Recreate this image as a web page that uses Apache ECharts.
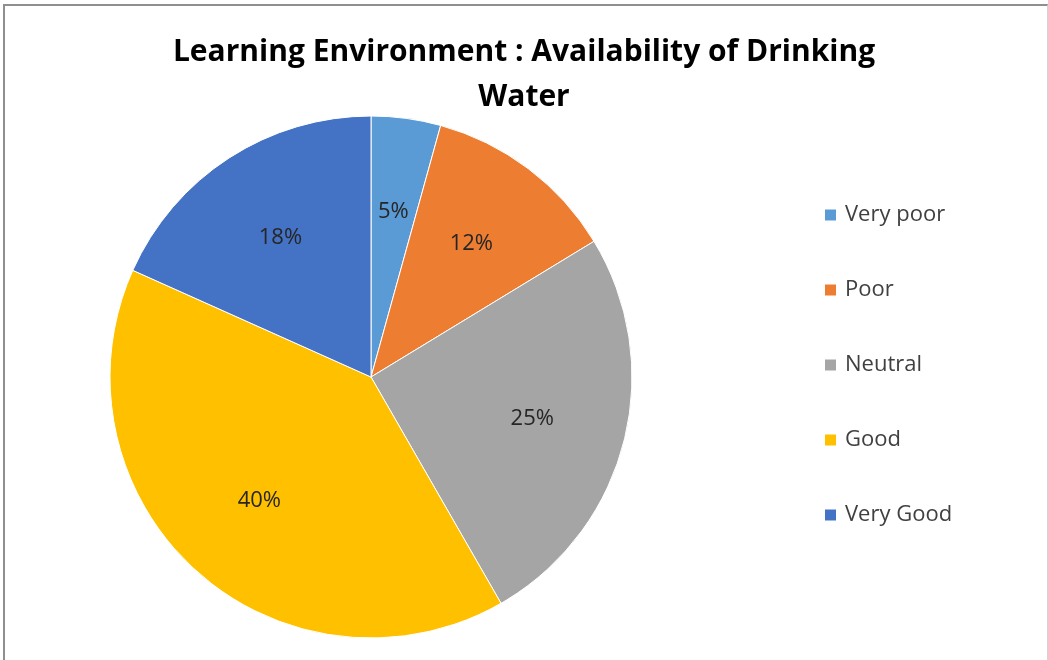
<!DOCTYPE html>
<html>
<head>
<meta charset="utf-8">
<script src="https://cdn.jsdelivr.net/npm/echarts@6/dist/echarts.min.js"></script>
<style>
  html, body { margin: 0; padding: 0; background: #fff; }
  #chart { position: absolute; left: 0; top: 0; width: 1048px; height: 660px; }
  #frame { position: absolute; left: 3px; top: 4px; width: 1042px; height: 660px;
           border-left: 2px solid #8f8f8f; border-top: 2px solid #8f8f8f;
           border-right: 1px solid #d4d4d4; pointer-events: none; }
</style>
</head>
<body>
<div id="chart"></div>
<div id="frame"></div>
<script>
  // categories and slice shares (in %)
  const categories = ['Very poor', 'Poor', 'Neutral', 'Good', 'Very Good']
  const shares = [4.3, 12.0, 25.4, 40.0, 18.3]
  // percentage labels as printed on the slices
  const pctLabels = ['5%', '12%', '25%', '40%', '18%']
  const colors = ['#5B9BD5', '#ED7D31', '#A5A5A5', '#FFC000', '#4472C4']

  let myChart = echarts.init(document.getElementById('chart'))
  let pieData = categories.map(function(name, i) {
    return { name: name, value: shares[i] }
  })
  let option = {
    color: colors,
    animation: false,
    title: {
      text: 'Learning Environment : Availability of Drinking\nWater',
      left: 'center',
      top: 25,
      textStyle: {
        fontFamily: 'Open Sans',
        fontWeight: 'bold',
        fontSize: 30,
        lineHeight: 45,
        color: '#000'
      }
    },
    legend: {
      orient: 'vertical',
      left: 818,
      top: 198,
      itemWidth: 13,
      itemHeight: 13,
      itemGap: 51,
      icon: 'rect',
      data: categories,
      textStyle: {
        fontFamily: 'Open Sans',
        fontSize: 22,
        lineHeight: 24,
        color: '#404040',
        padding: [0, 0, 0, 3]
      }
    },
    series: [
      {
        name: 'Drinking Water',
        type: 'pie',
        center: [371, 377],
        radius: [0, 261],
        startAngle: 90,
        clockwise: true,
        label: { show: false },
        labelLine: { show: false },
        itemStyle: { borderColor: '#fff', borderWidth: 1 },
        data: pieData
      },
      {
        // transparent ring only used to place the percentage labels
        name: 'labels',
        type: 'pie',
        center: [371, 377],
        radius: [66, 261],
        startAngle: 90,
        clockwise: true,
        silent: true,
        itemStyle: { color: 'transparent' },
        label: {
          show: true,
          position: 'inside',
          fontFamily: 'Open Sans',
          fontSize: 22,
          color: '#262626',
          formatter: function(p) { return pctLabels[p.dataIndex] }
        },
        labelLine: { show: false },
        data: pieData
      }
    ]
  }
  myChart.setOption(option)
  window.addEventListener('resize', function() {
    myChart.resize()
  })
</script>
</body>
</html>
